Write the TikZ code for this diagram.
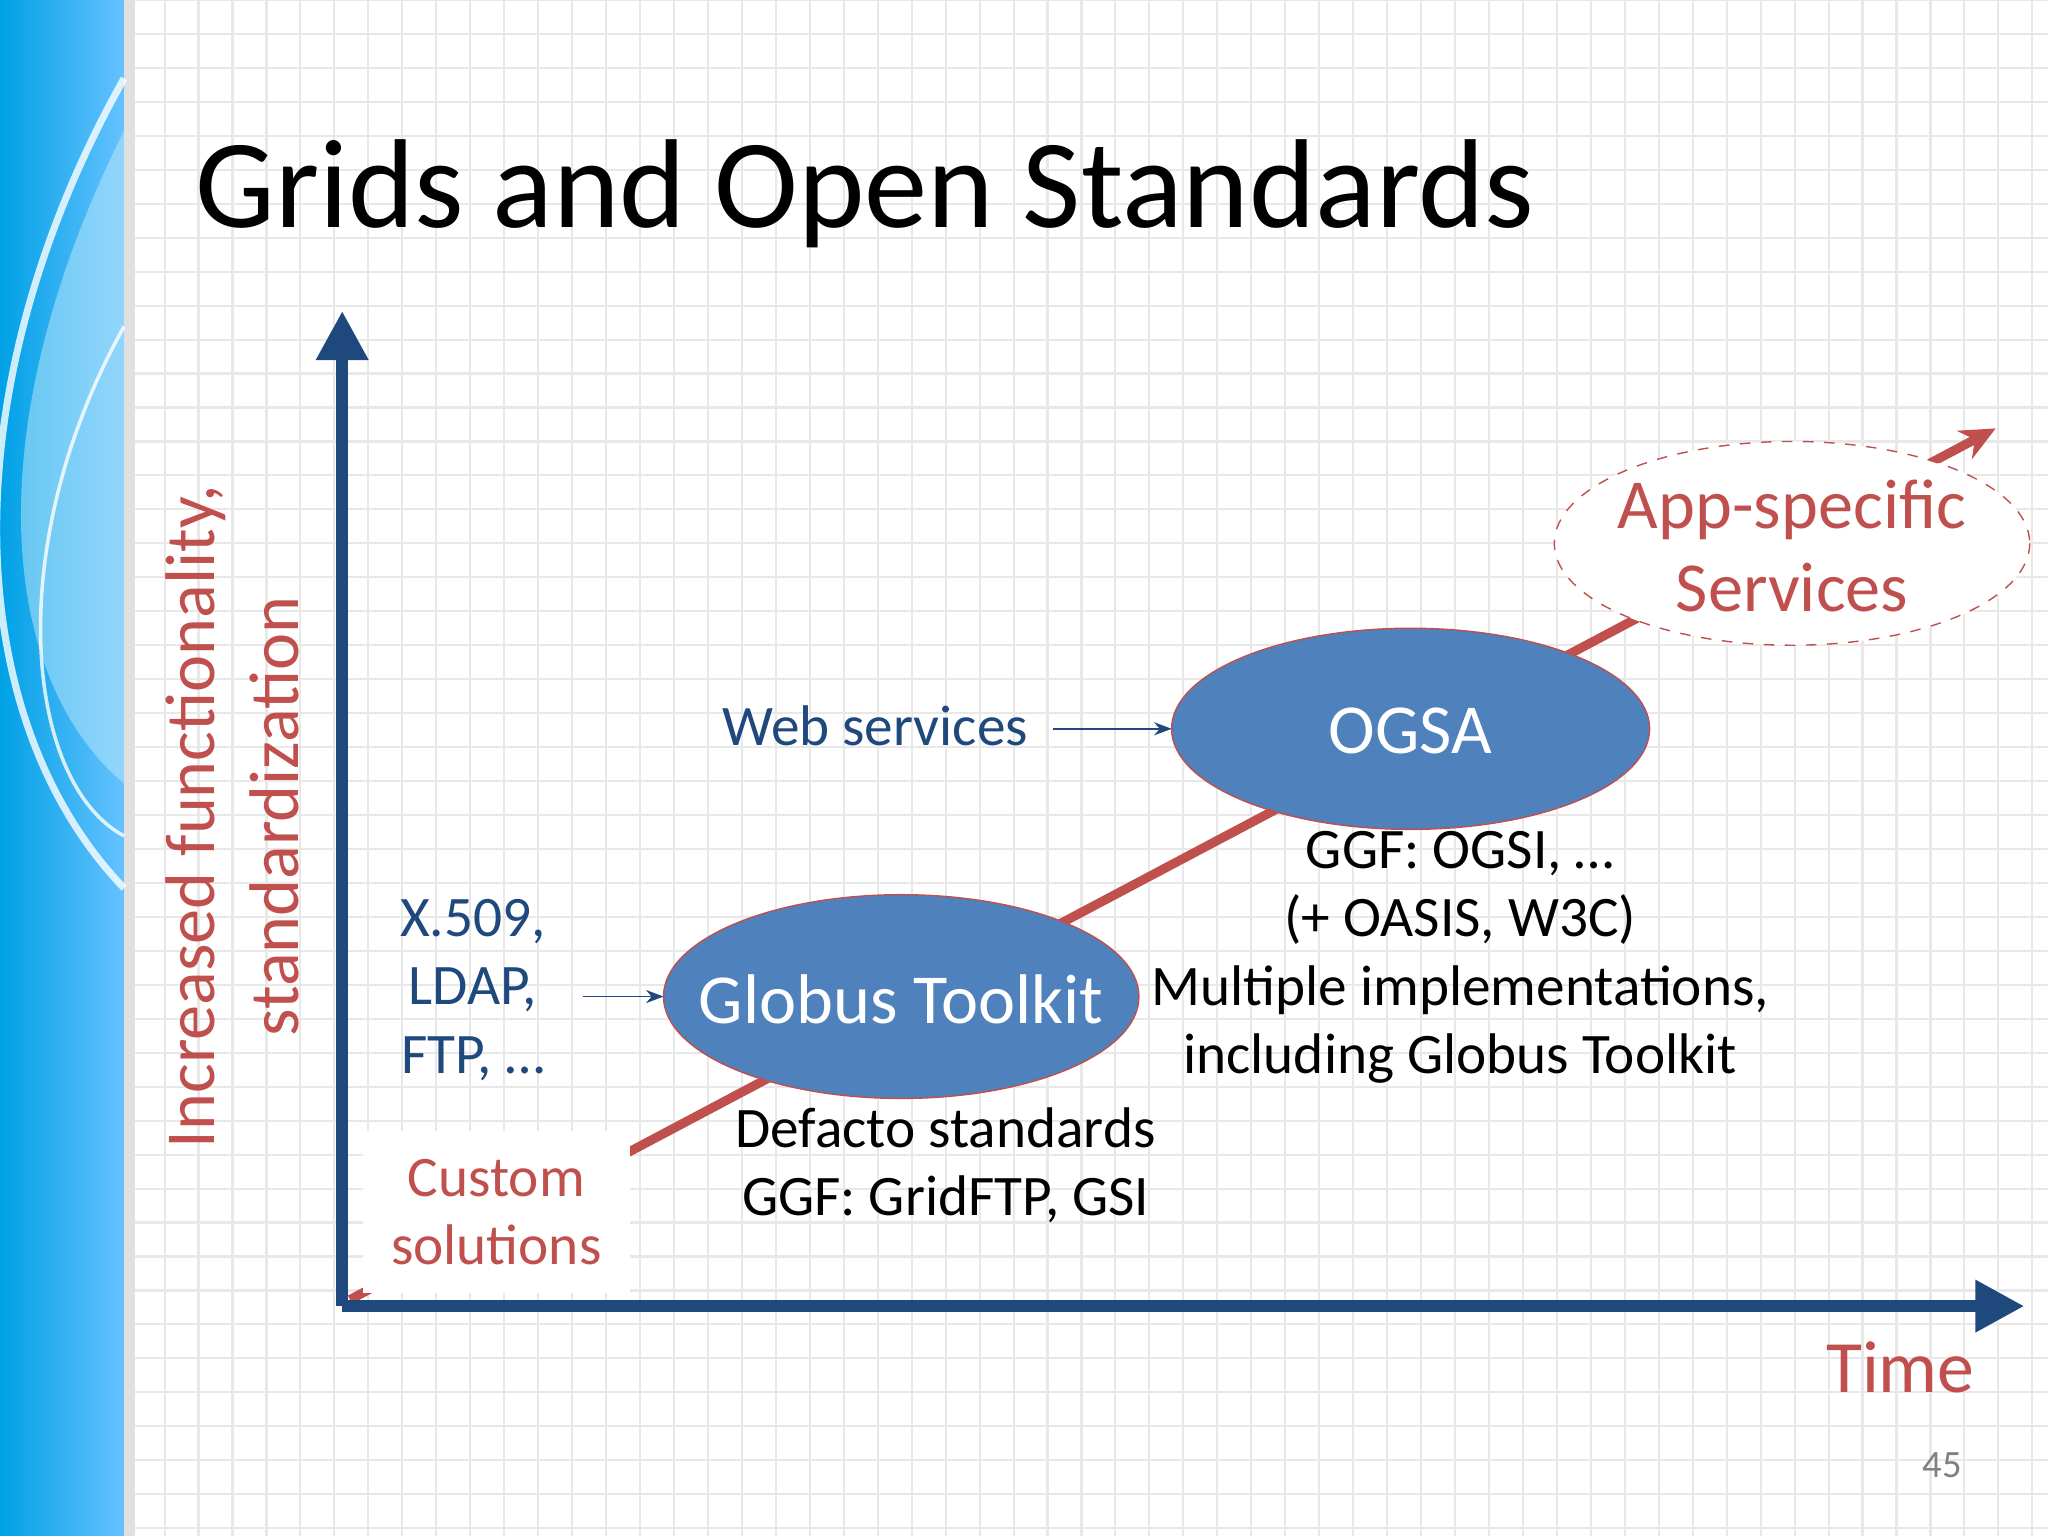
\documentclass[tikz,border=0pt]{standalone}
\usepackage{fontspec}
\setmainfont{Carlito}
\usetikzlibrary{arrows.meta}
\definecolor{dblue}{HTML}{1F497D}
\definecolor{ared}{HTML}{C0504D}
\definecolor{eblue}{HTML}{4F81BD}
\begin{document}
\begin{tikzpicture}[x=0.0130612cm,y=-0.0130612cm,
  body/.style={font=\fontsize{16.3}{19.4}\selectfont,align=center,inner sep=1pt},
  etext/.style={text=white,font=\fontsize{20}{24}\selectfont}]
\useasboundingbox (0,0) rectangle (1568,1176);
\fill[white] (0,0) rectangle (1568,1176);
\foreach \i in {0,...,60}{\draw[black!9,line width=0.6pt] (100+\i*26,0) -- (100+\i*26,1176);}
\foreach \i in {0,...,46}{\draw[black!9,line width=0.6pt] (95,\i*26) -- (1568,\i*26);}
% left band
\shade[left color=cyan!70!blue!90!black,right color=cyan!60!blue!60] (0,0) rectangle (95,1176);
\fill[black!12] (95,0) rectangle (103,1176);
\fill[cyan!25,opacity=0.5] (95,100) .. controls (-20,330) and (0,520) .. (95,600) -- cycle;
\draw[white,line width=2pt,opacity=0.8] (95,60) .. controls (-40,300) and (-30,550) .. (95,680);
\draw[white,line width=1pt,opacity=0.8] (95,250) .. controls (0,420) and (20,600) .. (95,640);
% title
\node[anchor=west,font=\fontsize{36}{42}\selectfont] (title) at (140,148) {Grids and Open Standards};
% red trend line
\coordinate (r0) at (268,995);
\coordinate (r1) at (1528,328);
\draw[ared,line width=2.6pt,-{Stealth[length=10pt,width=9pt]}] (r0) -- (r1);
% axes
\coordinate (o) at (262,1000);
\coordinate (ytop) at (262,238);
\coordinate (xend) at (1550,1000);
\draw[dblue,line width=3.5pt,-{Triangle[length=14pt,width=14pt]}] (o) -- (ytop);
\draw[dblue,line width=3.5pt,-{Triangle[length=14pt,width=14pt]}] (o) -- (xend);
% custom solutions
\node[fill=white,text=ared,body,inner sep=8pt] (cust) at (380,928) {Custom\\solutions};
% ellipses
\draw[ared,thin,fill=eblue] (690,763) ellipse [x radius=182, y radius=78];
\node[etext] (gt) at (690,765) {Globus Toolkit};
\coordinate (gtw) at (508,763);
\draw[ared,thin,fill=eblue] (1080,558) ellipse [x radius=183, y radius=77];
\node[etext] (ogsa) at (1080,560) {OGSA};
\coordinate (ogw) at (897,558);
\draw[ared,dashed,fill=white] (1372,416) ellipse [x radius=182, y radius=78];
\node[text=ared,align=center,font=\fontsize{20}{23.5}\selectfont] (app) at (1372,418) {App-specific\\Services};
% labels
\node[body,text=dblue] (ws) at (670,556) {Web services};
\draw[dblue,-{Stealth[length=5pt]}] (806,558) -- (ogw);
\node[body,text=dblue] (x509) at (362,758) {X.509,\\LDAP,\\FTP, …};
\draw[dblue,-{Stealth[length=5pt]}] (446,763) -- (gtw);
\node[body] (defacto) at (724,892) {Defacto standards\\GGF: GridFTP, GSI};
\node[body] (ggf) at (1118,733) {GGF: OGSI, …\\(+ OASIS, W3C)\\Multiple implementations,\\including Globus Toolkit};
\node[rotate=90,text=ared,font=\fontsize{20}{26}\selectfont] (yl1) at (150,625) {Increased functionality,};
\node[rotate=90,text=ared,font=\fontsize{20}{26}\selectfont] (yl2) at (210,625) {standardization};
\node[text=ared,font=\fontsize{21}{26}\selectfont] (time) at (1455,1047) {Time};
\node[text=black!50,font=\fontsize{11}{13}\selectfont] (pg) at (1487,1122) {45};
\end{tikzpicture}
\end{document}
